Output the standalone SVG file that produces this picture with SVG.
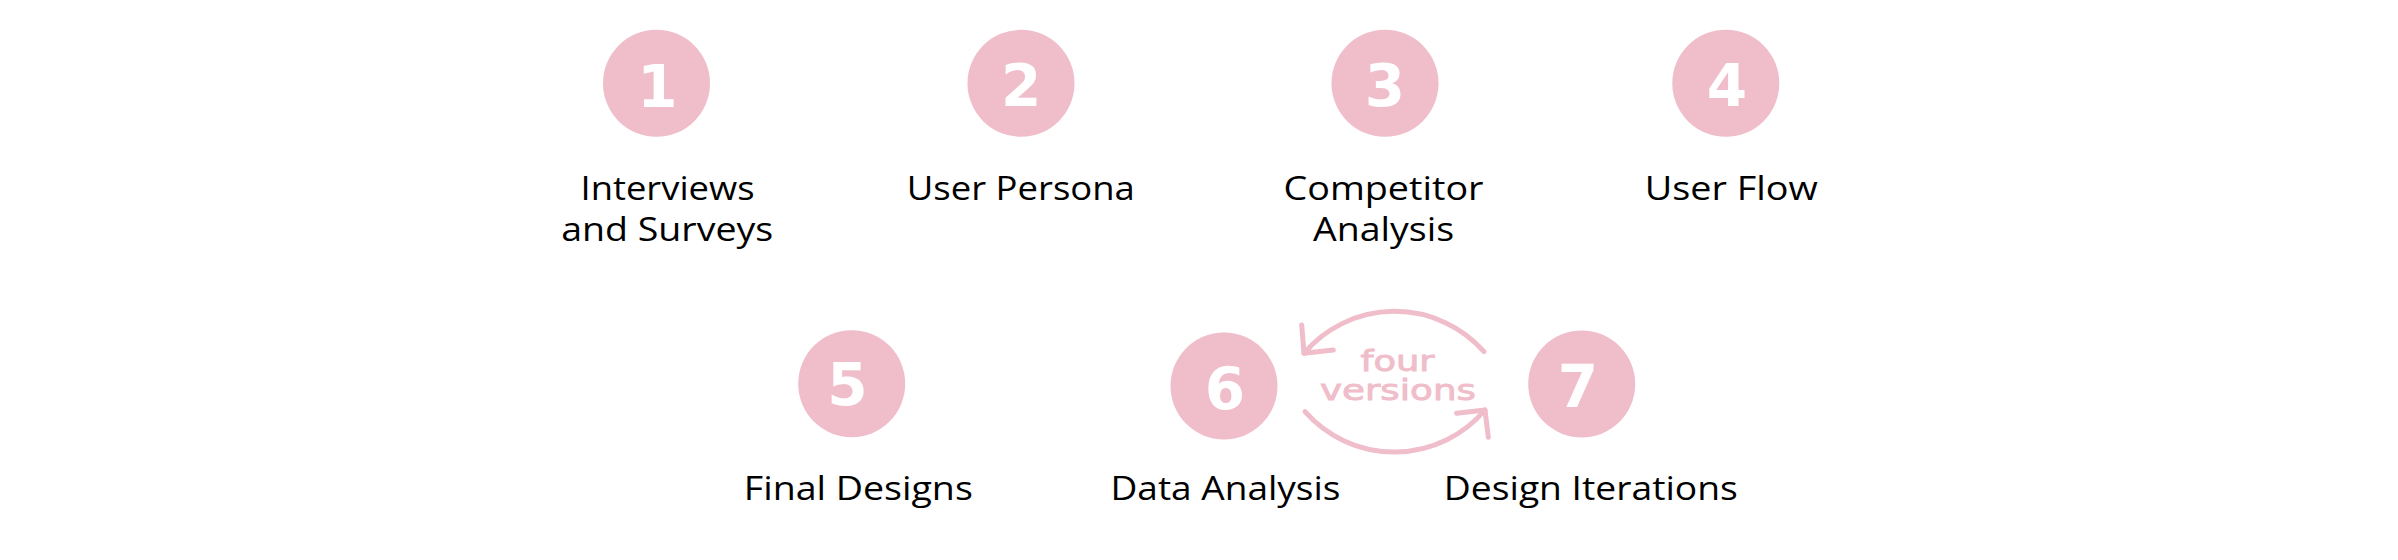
<svg xmlns="http://www.w3.org/2000/svg" width="2398" height="560" viewBox="0 0 2398 560">
<style>
.bg{fill:#ffffff}
.dot{fill:#f0bdca}
.num{font-family:"DejaVu Sans",sans-serif;font-weight:700;font-size:58px;fill:#ffffff;text-anchor:middle}
.lbl{font-family:"Open Sans","Liberation Sans",sans-serif;font-weight:400;font-size:32px;fill:#000000;text-anchor:middle}
.arc{fill:none;stroke:#f0bdca;stroke-width:5;stroke-linecap:round;stroke-linejoin:round}
.cyc{font-family:"DejaVu Sans",sans-serif;font-size:29px;fill:#f0bdca;stroke:#f0bdca;stroke-width:0.9;text-anchor:middle}
</style>
<rect class="bg" x="0" y="0" width="2398" height="560"/>
<g id="node1">
<circle class="dot" cx="656.5" cy="83.3" r="53.5"/>
<text class="num" x="657.5" y="106.5">1</text>
<text class="lbl" x="667.5" y="199.5" textLength="174" lengthAdjust="spacingAndGlyphs">Interviews</text>
<text class="lbl" x="667.2" y="240.7" textLength="212" lengthAdjust="spacingAndGlyphs">and Surveys</text>
</g>
<g id="node2">
<circle class="dot" cx="1021" cy="83.3" r="53.5"/>
<text class="num" x="1021.3" y="106">2</text>
<text class="lbl" x="1020.8" y="200" textLength="228" lengthAdjust="spacingAndGlyphs">User Persona</text>
</g>
<g id="node3">
<circle class="dot" cx="1385" cy="83.3" r="53.5"/>
<text class="num" x="1385" y="106">3</text>
<text class="lbl" x="1383.5" y="200" textLength="200" lengthAdjust="spacingAndGlyphs">Competitor</text>
<text class="lbl" x="1383.5" y="241" textLength="141" lengthAdjust="spacingAndGlyphs">Analysis</text>
</g>
<g id="node4">
<circle class="dot" cx="1725.8" cy="83.3" r="53.5"/>
<text class="num" x="1727" y="106">4</text>
<text class="lbl" x="1731.3" y="200" textLength="173" lengthAdjust="spacingAndGlyphs">User Flow</text>
</g>
<g id="node5">
<circle class="dot" cx="851.7" cy="383.7" r="53.5"/>
<text class="num" x="847.5" y="405">5</text>
<text class="lbl" x="858.3" y="500" textLength="229" lengthAdjust="spacingAndGlyphs">Final Designs</text>
</g>
<g id="node6">
<circle class="dot" cx="1224" cy="386" r="53.5"/>
<text class="num" x="1225" y="409">6</text>
<text class="lbl" x="1225.5" y="500" textLength="230" lengthAdjust="spacingAndGlyphs">Data Analysis</text>
</g>
<g id="node7">
<circle class="dot" cx="1581.7" cy="384" r="53.5"/>
<text class="num" x="1578" y="407">7</text>
<text class="lbl" x="1590.8" y="500" textLength="294" lengthAdjust="spacingAndGlyphs">Design Iterations</text>
</g>
<g id="connectors">
<path class="arc" d="M1484,351.7 A119,119 0 0 0 1304,353.3"/>
<path class="arc" d="M1301.7,325 L1304,353.3 L1333.3,350"/>
<path class="arc" d="M1305,411.7 A119,119 0 0 0 1485,410"/>
<path class="arc" d="M1456.7,413.3 L1485,410 L1488.3,437.3"/>
<text class="cyc" x="1397.5" y="371" textLength="74" lengthAdjust="spacingAndGlyphs">four</text>
<text class="cyc" x="1398" y="400" textLength="156" lengthAdjust="spacingAndGlyphs">versions</text>
</g>
</svg>
